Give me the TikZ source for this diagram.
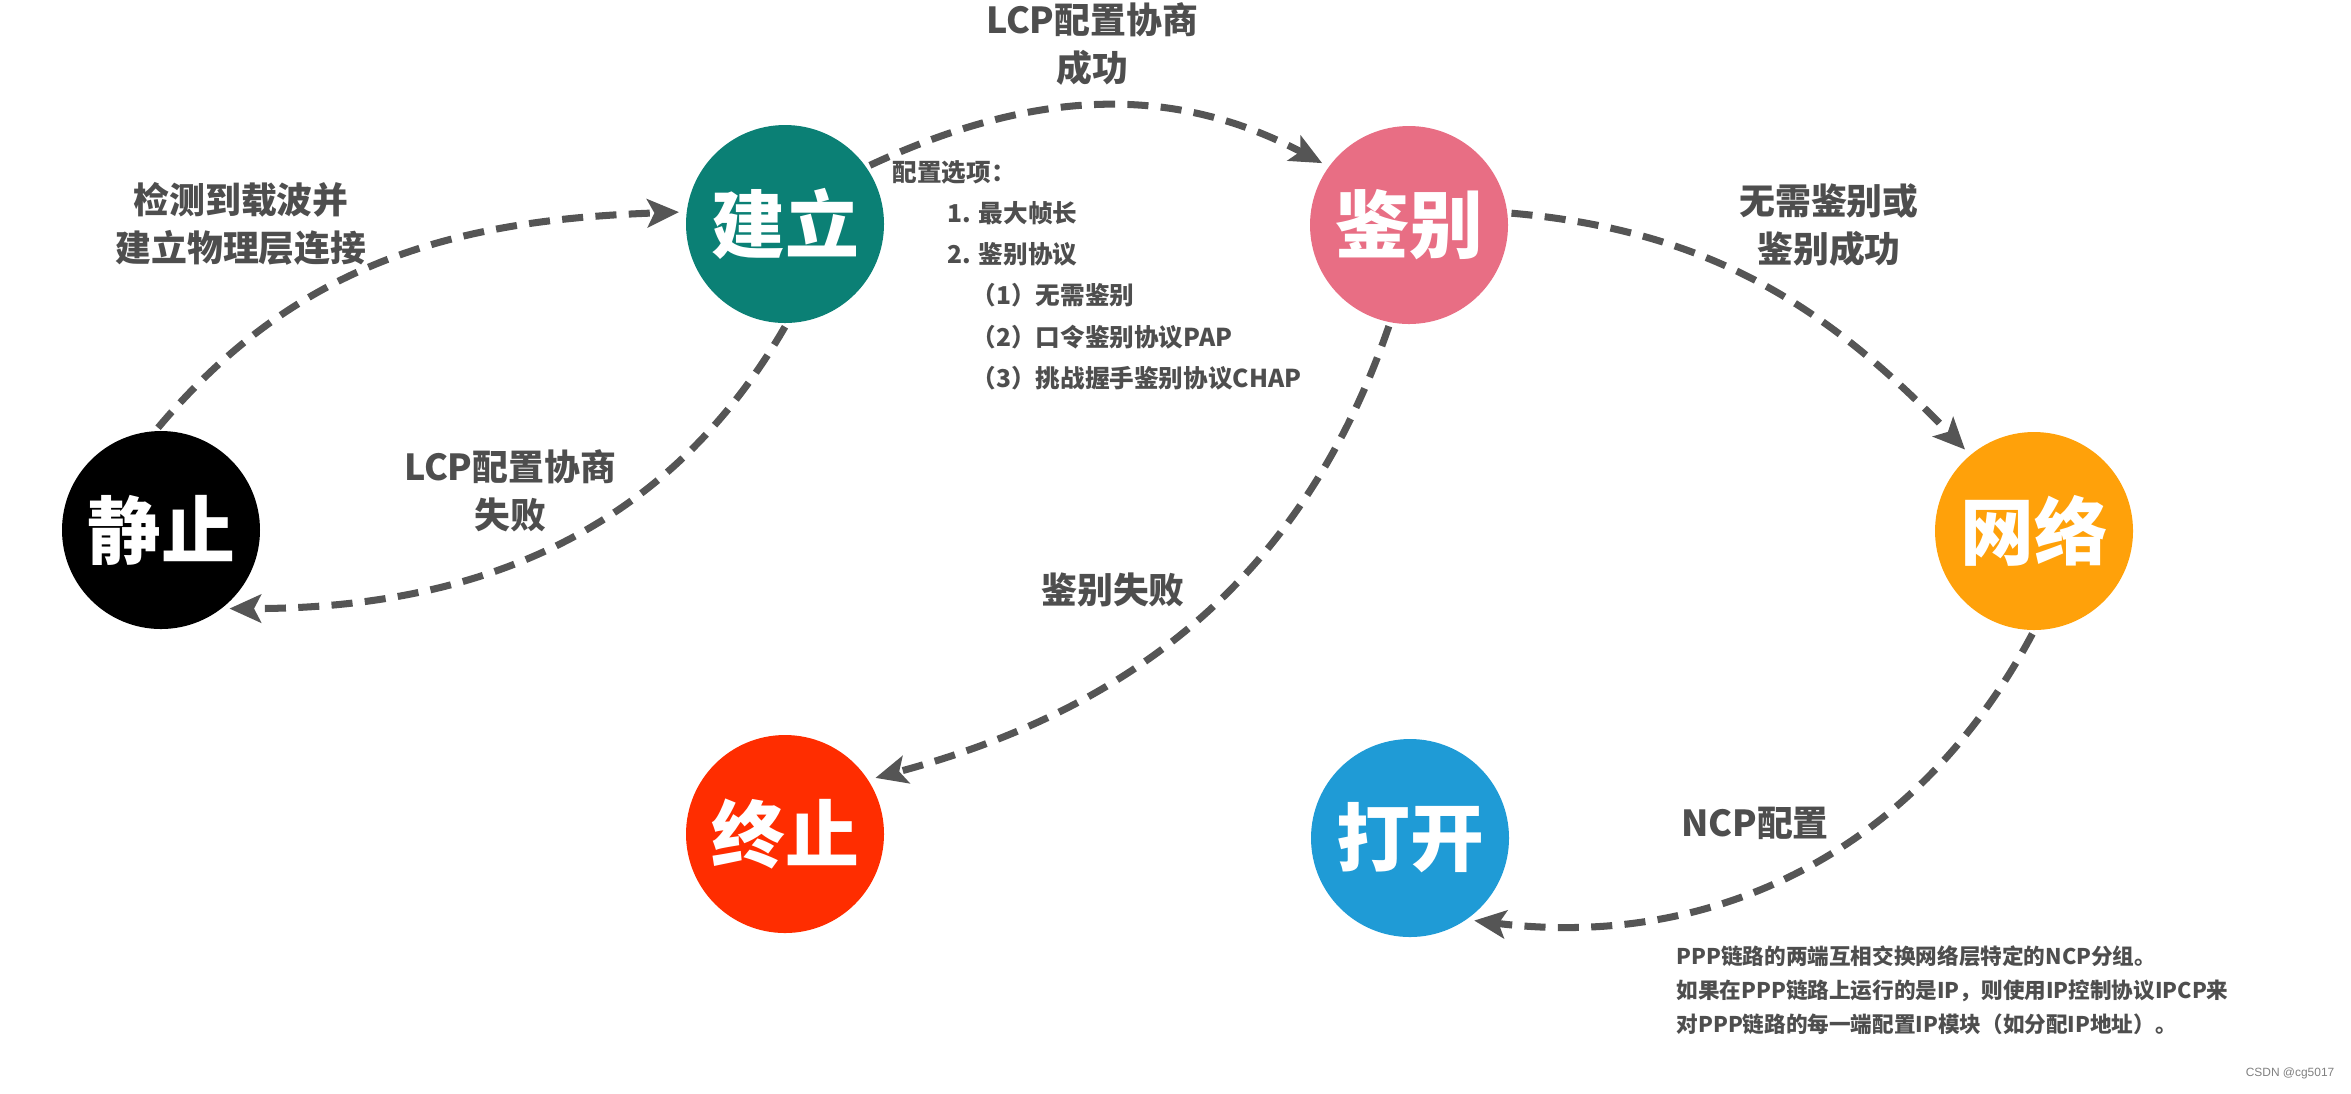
\documentclass[tikz,border=0pt]{standalone}
\usepackage{fontspec}
\setmainfont{Noto Sans CJK SC}
\usepackage{xcolor}
\usepackage{tikz}
\usetikzlibrary{arrows.meta}

\definecolor{jianlicol}{RGB}{11,128,117}
\definecolor{jianbiecol}{RGB}{232,110,132}
\definecolor{wangluocol}{RGB}{255,161,10}
\definecolor{zhongzhicol}{RGB}{255,45,0}
\definecolor{dakaicol}{RGB}{31,155,214}
\definecolor{linegray}{RGB}{85,85,85}
\definecolor{textgray}{RGB}{78,78,78}

\begin{document}
\begin{tikzpicture}[
state/.style={circle, minimum size=1.98cm, inner sep=0pt, text=white, font=\fontsize{21}{21}\selectfont\bfseries},
trans/.style={-{Stealth[length=9pt,width=8pt,inset=2pt]}, draw=linegray, line width=2pt, dash pattern=on 6pt off 3.5pt, shorten >=2pt, shorten <=1pt},
lbl/.style={text=textgray, align=center, font=\fontsize{10.2}{13.6}\selectfont\bfseries},
note/.style={text=textgray, align=left, inner sep=0pt, font=\fontsize{7.0}{11.7}\selectfont\bfseries}
]
\useasboundingbox (0,0) rectangle (23.51,-10.93);

\node[state, fill=black] (jingzhi) at (1.61,-5.30) {静止};
\node[state, fill=jianlicol] (jianli) at (7.85,-2.24) {建立};
\node[state, fill=jianbiecol] (jianbie) at (14.09,-2.25) {鉴别};
\node[state, fill=wangluocol] (wangluo) at (20.34,-5.31) {网络};
\node[state, fill=zhongzhicol] (zhongzhi) at (7.85,-8.34) {终止};
\node[state, fill=dakaicol] (dakai) at (14.10,-8.38) {打开};

\draw[trans] (jingzhi.93) to[out=50,in=182] (jianli.173);
\draw[trans] (jianli.-89) to[out=240,in=0] (jingzhi.-52);
\draw[trans] (jianli.35) to[out=25,in=152] (jianbie.144);
\draw[trans] (jianbie.7) to[out=-5,in=134] (wangluo.130);
\draw[trans] (jianbie.-101) to[out=251,in=15] (zhongzhi.33);
\draw[trans] (wangluo.-90) to[out=242,in=-7] (dakai.-55);

\node[lbl] (jiance) at (2.41,-2.24) {检测到载波并\\建立物理层连接};
\node[lbl] (lcpshibai) at (5.10,-4.91) {LCP配置协商\\失败};
\node[lbl] (lcpchenggong) at (10.92,-0.44) {LCP配置协商\\成功};
\node[lbl] (wuxu) at (18.29,-2.25) {无需鉴别或\\鉴别成功};
\node[lbl] (jianbieshibai) at (11.13,-5.90) {鉴别失败};
\node[lbl] (ncp) at (17.55,-8.23) {NCP配置};

\node[note, anchor=north west] (xuanxiang) at (8.92,-1.60) {配置选项：\\
\hspace*{0.55cm}1. 最大帧长\\
\hspace*{0.55cm}2. 鉴别协议\\
\hspace*{0.79cm}（1）无需鉴别\\
\hspace*{0.79cm}（2）口令鉴别协议PAP\\
\hspace*{0.79cm}（3）挑战握手鉴别协议CHAP};

\node[note, anchor=north west, font=\fontsize{6.15}{9.7}\selectfont\bfseries] (ncpshuoming) at (16.76,-9.45) {PPP链路的两端互相交换网络层特定的NCP分组。\\
如果在PPP链路上运行的是IP，则使用IP控制协议IPCP来\\
对PPP链路的每一端配置IP模块（如分配IP地址）。};

\node[anchor=east, inner sep=0pt, text=gray, font=\fontsize{3.4}{4}\selectfont\fontspec{Liberation Sans}] (csdn) at (23.35,-10.73) {CSDN @cg5017};
\end{tikzpicture}
\end{document}
